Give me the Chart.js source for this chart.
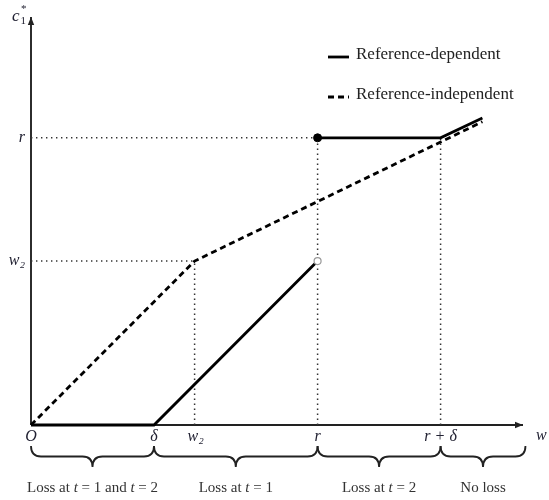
<!DOCTYPE html>
<html>
<head>
<meta charset="utf-8">
<script src="https://cdn.jsdelivr.net/npm/chart.js@4/dist/chart.umd.min.js"></script>
<style>
  html, body { margin: 0; padding: 0; background: #fff; }
  #wrap { width: 549px; height: 500px; }
</style>
</head>
<body>
<div id="wrap"><canvas id="c" width="549" height="500"></canvas></div>
<script>
// Wealth w on the horizontal axis, first-period consumption c1* on the vertical.
// Unit: delta = 1.
const wTickValues = [0, 1, 1.33, 2.33, 3.33];
const wTickLabels = ['O', 'δ', 'w₂', 'r', 'r + δ'];
const cTickValues = [1.33, 2.33];
const cTickLabels = ['w₂', 'r'];

// Reference-dependent optimum (jump at w = r)
const refDepW = [0, 1, 2.33, 2.33, 2.33, 3.33, 3.67];
const refDepC = [0, 0, 1.33, null, 2.33, 2.33, 2.49];

// Reference-independent optimum
const refIndW = [0, 1.33, 3.67];
const refIndC = [0, 1.33, 2.46];

// Closed / open endpoints at the jump
const closedDot = { w: 2.33, c: 2.33 };
const openDot = { w: 2.33, c: 1.33 };

// Dotted guide lines: [w0, c0, w1, c1]
const guideLines = [
  [0, 2.33, 2.33, 2.33],
  [0, 1.33, 1.33, 1.33],
  [1.33, 0, 1.33, 1.33],
  [2.33, 0, 2.33, 2.33],
  [3.33, 0, 3.33, 2.33]
];

// Loss regions along the w axis
const regionBounds = [0, 1, 2.33, 3.33, 4.02];
const regionLabels = ['Loss at t = 1 and t = 2', 'Loss at t = 1', 'Loss at t = 2', 'No loss'];

const seriesNames = ['Reference-dependent', 'Reference-independent'];

const X_MAX = 4.0;
const Y_MAX = 3.31;

const pts = (xs, ys) => xs.map((x, i) => ({ x: x, y: ys[i] }));

const datasets = [
  {
    label: 'closed',
    data: [{ x: closedDot.w, y: closedDot.c }],
    showLine: false,
    pointRadius: 4,
    pointBackgroundColor: '#000',
    pointBorderColor: '#000',
    pointBorderWidth: 1,
    clip: false
  },
  {
    label: 'open',
    data: [{ x: openDot.w, y: openDot.c }],
    showLine: false,
    pointRadius: 3.5,
    pointBackgroundColor: '#fff',
    pointBorderColor: '#999',
    pointBorderWidth: 1.2,
    clip: false
  },
  {
    label: seriesNames[0],
    data: pts(refDepW, refDepC),
    borderColor: '#000',
    borderWidth: 2.8,
    pointRadius: 0,
    spanGaps: false,
    tension: 0,
    clip: false
  },
  {
    label: seriesNames[1],
    data: pts(refIndW, refIndC),
    borderColor: '#000',
    borderWidth: 2.8,
    borderDash: [6, 4],
    pointRadius: 0,
    tension: 0,
    clip: false
  }
].concat(guideLines.map((g, i) => ({
  label: 'guide' + i,
  data: [{ x: g[0], y: g[1] }, { x: g[2], y: g[3] }],
  borderColor: '#333',
  borderWidth: 1.5,
  borderDash: [1.4, 3.6],
  pointRadius: 0,
  clip: false
})));

const MATH_FONT = 'italic 16px "Liberation Serif", "DejaVu Serif", serif';
const TEXT_FONT = '15px "Liberation Serif", "DejaVu Serif", serif';
const LEGEND_FONT = '17px "Liberation Serif", "DejaVu Serif", serif';

function drawArrowLine(ctx, x0, y0, x1, y1) {
  ctx.beginPath();
  ctx.moveTo(x0, y0);
  ctx.lineTo(x1, y1);
  ctx.stroke();
  const a = Math.atan2(y1 - y0, x1 - x0);
  const L = 8, W = 3.2;
  ctx.beginPath();
  ctx.moveTo(x1, y1);
  ctx.lineTo(x1 - L * Math.cos(a) + W * Math.sin(a), y1 - L * Math.sin(a) - W * Math.cos(a));
  ctx.lineTo(x1 - L * Math.cos(a) - W * Math.sin(a), y1 - L * Math.sin(a) + W * Math.cos(a));
  ctx.closePath();
  ctx.fill();
}

function drawBrace(ctx, x1, x2, yTop, h) {
  const mid = (x1 + x2) / 2;
  const ym = yTop + h / 2;
  const q = Math.min(10, (x2 - x1) / 4);
  ctx.beginPath();
  ctx.moveTo(x1, yTop);
  ctx.quadraticCurveTo(x1, ym, x1 + q, ym);
  ctx.lineTo(mid - q, ym);
  ctx.quadraticCurveTo(mid, ym, mid, yTop + h);
  ctx.quadraticCurveTo(mid, ym, mid + q, ym);
  ctx.lineTo(x2 - q, ym);
  ctx.quadraticCurveTo(x2, ym, x2, yTop);
  ctx.stroke();
}

// Draws "a at t = 1" style strings with italic t
function drawMixedText(ctx, str, cx, cy) {
  const parts = str.split(/(\bt\b)/);
  let total = 0;
  const widths = parts.map(p => {
    ctx.font = (p === 't') ? 'italic ' + TEXT_FONT : TEXT_FONT;
    const w = ctx.measureText(p).width;
    total += w;
    return w;
  });
  let x = cx - total / 2;
  ctx.textAlign = 'left';
  ctx.textBaseline = 'middle';
  parts.forEach((p, i) => {
    ctx.font = (p === 't') ? 'italic ' + TEXT_FONT : TEXT_FONT;
    ctx.fillText(p, x, cy);
    x += widths[i];
  });
}

const diagramPlugin = {
  id: 'diagram',
  beforeDatasetsDraw(chart) {
    const ctx = chart.ctx;
    const xs = chart.scales.x, ys = chart.scales.y;
    const x0 = xs.getPixelForValue(0), y0 = ys.getPixelForValue(0);
    ctx.save();
    ctx.strokeStyle = '#222';
    ctx.fillStyle = '#222';
    ctx.lineWidth = 1.9;
    drawArrowLine(ctx, x0, y0, xs.getPixelForValue(X_MAX), y0);
    drawArrowLine(ctx, x0, y0, x0, ys.getPixelForValue(Y_MAX));
    ctx.restore();
  },
  afterDraw(chart) {
    const ctx = chart.ctx;
    const xs = chart.scales.x, ys = chart.scales.y;
    const x0 = xs.getPixelForValue(0), y0 = ys.getPixelForValue(0);
    ctx.save();
    ctx.fillStyle = '#223';

    // w-axis tick labels
    ctx.font = MATH_FONT;
    ctx.textAlign = 'center';
    ctx.textBaseline = 'middle';
    wTickValues.forEach((v, i) => {
      ctx.fillText(wTickLabels[i], xs.getPixelForValue(v) + (i === 2 ? 1 : 0), y0 + 12);
    });
    // c-axis tick labels
    ctx.textAlign = 'right';
    cTickValues.forEach((v, i) => {
      ctx.fillText(cTickLabels[i], x0 - 6, ys.getPixelForValue(v));
    });
    // axis titles
    ctx.textAlign = 'left';
    ctx.fillText('w', xs.getPixelForValue(X_MAX) + 13, y0 + 11);
    ctx.font = 'italic 17px "Liberation Serif", serif';
    ctx.textBaseline = 'alphabetic';
    ctx.fillText('c', 12, 21);
    ctx.font = '11px "Liberation Serif", serif';
    ctx.fillText('1', 20.5, 24);
    ctx.fillText('*', 21, 12);

    // braces under the axis
    ctx.strokeStyle = '#222';
    ctx.lineWidth = 1.8;
    for (let i = 0; i < regionLabels.length; i++) {
      const a = xs.getPixelForValue(regionBounds[i]);
      const b = xs.getPixelForValue(regionBounds[i + 1]);
      drawBrace(ctx, a, b, y0 + 21, 21);
      ctx.fillStyle = '#333';
      drawMixedText(ctx, regionLabels[i], (a + b) / 2, y0 + 63);
    }

    // legend
    const lx0 = 328, lx1 = 349;
    const rows = [57, 97];
    [2, 3].forEach((di, k) => {
      const ds = chart.data.datasets[di];
      ctx.beginPath();
      ctx.strokeStyle = ds.borderColor;
      ctx.lineWidth = ds.borderWidth;
      ctx.setLineDash(ds.borderDash || []);
      ctx.moveTo(lx0, rows[k]);
      ctx.lineTo(lx1, rows[k]);
      ctx.stroke();
      ctx.setLineDash([]);
      ctx.font = LEGEND_FONT;
      ctx.fillStyle = '#222';
      ctx.textAlign = 'left';
      ctx.textBaseline = 'middle';
      ctx.fillText(ds.label, 356, rows[k] - 2);
    });
    ctx.restore();
  }
};

new Chart(document.getElementById('c'), {
  type: 'line',
  data: { datasets: datasets },
  options: {
    responsive: false,
    animation: false,
    events: [],
    layout: { padding: { left: 31, right: 26, top: 17, bottom: 75 } },
    scales: {
      x: { type: 'linear', min: 0, max: X_MAX, display: false },
      y: { type: 'linear', min: 0, max: Y_MAX, display: false }
    },
    plugins: {
      legend: { display: false },
      tooltip: { enabled: false }
    }
  },
  plugins: [diagramPlugin]
});
</script>
</body>
</html>
